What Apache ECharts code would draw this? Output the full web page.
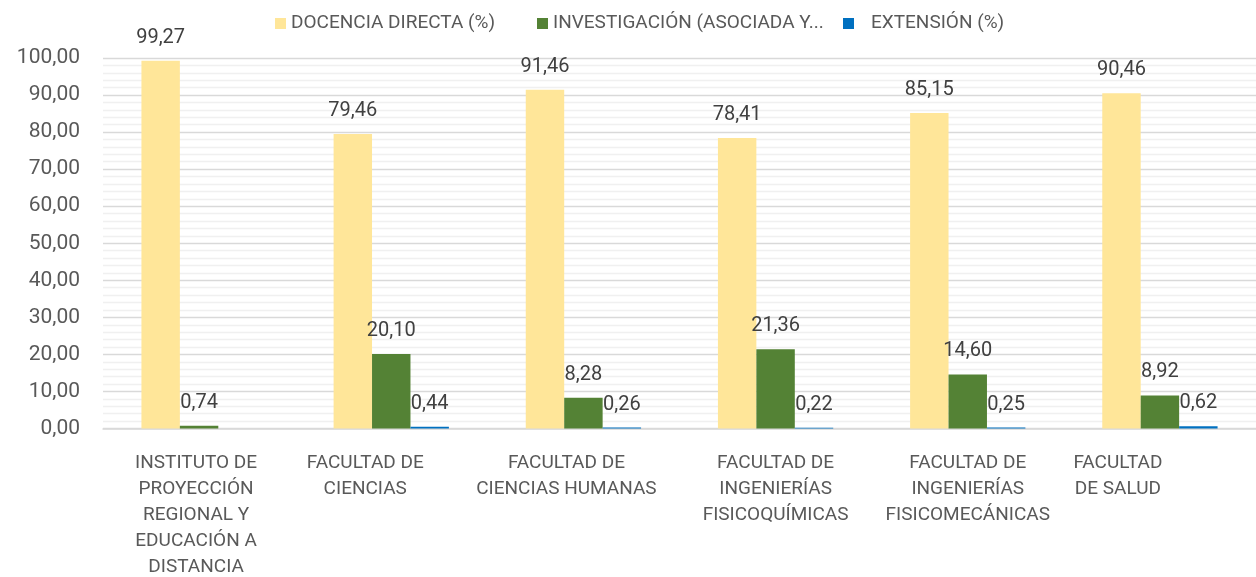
<!DOCTYPE html>
<html>
<head>
<meta charset="utf-8">
<script src="https://cdn.jsdelivr.net/npm/echarts@6/dist/echarts.min.js"></script>
<style>
  html, body { margin: 0; padding: 0; background: #fff; }
  #chart { width: 1256px; height: 577px; }
</style>
</head>
<body>
<div id="chart"></div>
<script>
// categorias (con saltos de linea como en la imagen)
var categorias = [
  'INSTITUTO DE\nPROYECCIÓN\nREGIONAL Y\nEDUCACIÓN A\nDISTANCIA',
  'FACULTAD DE\nCIENCIAS',
  'FACULTAD DE\nCIENCIAS HUMANAS',
  'FACULTAD DE\nINGENIERÍAS\nFISICOQUÍMICAS',
  'FACULTAD DE\nINGENIERÍAS\nFISICOMECÁNICAS',
  'FACULTAD\nDE SALUD'
];
var serieNombres = ['DOCENCIA DIRECTA (%)', 'INVESTIGACIÓN (ASOCIADA Y...', 'EXTENSIÓN (%)'];
var docencia = [99.27, 79.46, 91.46, 78.41, 85.15, 90.46];
var investigacion = [0.74, 20.10, 8.28, 21.36, 14.60, 8.92];
var extension = [null, 0.44, 0.26, 0.22, 0.25, 0.62];

var colores = ['#FFE699', '#548235', '#0070C0'];
var fuente = 'Roboto';
// desplazamiento a la izquierda de cada etiqueta de categoria (px)
var corrimiento = [3, 26, 17, 0, 0, 42];

function coma(v) {
  return Number(v).toFixed(2).replace('.', ',');
}

var rich = {};
corrimiento.forEach(function (d, i) {
  rich['c' + i] = {
    padding: [0, 2 * d, 0, 0],
    fontFamily: fuente,
    fontSize: 19,
    lineHeight: 26,
    color: '#595959'
  };
});

var chart = echarts.init(document.getElementById('chart'));

function serie(i, datos) {
  return {
    name: serieNombres[i],
    type: 'bar',
    data: datos,
    itemStyle: { color: colores[i] },
    barGap: '0%',
    barCategoryGap: '40%',
    label: {
      show: true,
      position: 'top',
      distance: 13,
      color: '#404040',
      fontFamily: fuente,
      fontSize: 20,
      formatter: function (p) { return coma(p.value); }
    }
  };
}

function leyenda(i, x, extra) {
  return {
    left: x,
    top: 14,
    padding: 0,
    itemWidth: 11,
    itemHeight: 11,
    itemGap: 5,
    icon: 'rect',
    data: [serieNombres[i]],
    textStyle: { color: '#595959', fontFamily: fuente, fontSize: 19, padding: [0, 0, 0, extra] }
  };
}

chart.setOption({
  animation: false,
  legend: [leyenda(0, 275, 0), leyenda(1, 537, 0), leyenda(2, 843, 12)],
  grid: { left: 103, top: 58, height: 374, width: 1158 },
  xAxis: {
    type: 'category',
    data: categorias,
    axisTick: { show: false },
    axisLine: { lineStyle: { color: '#D9D9D9', width: 1.5 } },
    axisLabel: {
      margin: 22,
      interval: 0,
      formatter: function (v, i) { return '{c' + i + '|' + v + '}'; },
      rich: rich
    }
  },
  yAxis: {
    type: 'value',
    min: 0,
    max: 100,
    interval: 10,
    axisLabel: {
      margin: 23,
      color: '#595959',
      fontFamily: fuente,
      fontSize: 21,
      formatter: coma
    },
    splitLine: { lineStyle: { color: '#D9D9D9', width: 1.3 } },
    minorTick: { show: false, splitNumber: 5 },
    minorSplitLine: { show: true, lineStyle: { color: '#F0F0F0', width: 1.3 } }
  },
  series: [serie(0, docencia), serie(1, investigacion), serie(2, extension)]
});
</script>
</body>
</html>
